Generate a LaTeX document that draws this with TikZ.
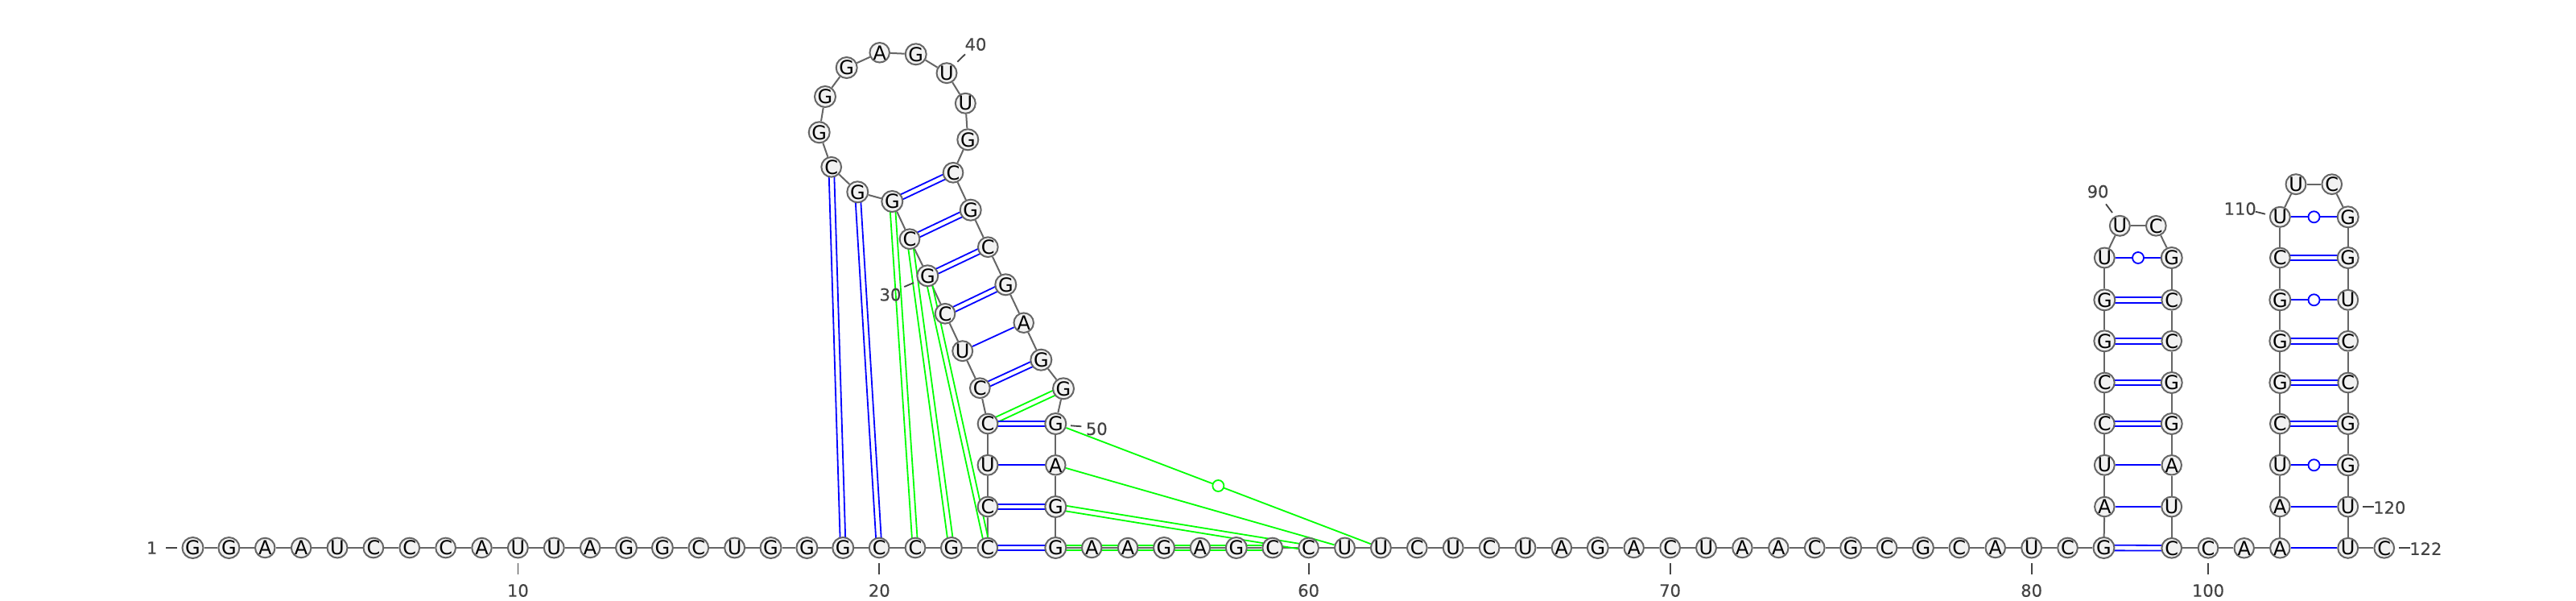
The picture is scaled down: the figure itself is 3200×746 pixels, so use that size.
\documentclass[tikz,border=0pt]{standalone}
\usepackage{fontspec}
\setmainfont{DejaVu Sans}
\newfontfamily\numfont[FakeBold=0.25]{DejaVu Sans}
\usetikzlibrary{calc}
\definecolor{bbgray}{HTML}{666666}
\definecolor{nfill}{HTML}{F2F2F2}
\definecolor{lblgray}{HTML}{444444}
\definecolor{pblue}{HTML}{0000FF}
\definecolor{pgreen}{HTML}{00FF00}
\pgfdeclarelayer{edges}
\pgfsetlayers{edges,main}
\tikzset{
  nt/.style={circle,draw=bbgray,fill=nfill,line width=2pt,minimum size=24.5pt,inner sep=0pt,text=black,font=\fontsize{24}{24}\selectfont},
  bb/.style={draw=bbgray,line width=2pt},
  pairline/.style={line width=1.8pt},
  midmark/.style={circle,fill=white,line width=1.8pt,minimum size=14pt,inner sep=0pt},
  tick/.style={draw=lblgray,line width=1.8pt},
  lbl/.style={text=lblgray,inner sep=0pt,font=\numfont\fontsize{21}{21}\selectfont},
}
\newcommand{\pdouble}[3]{\draw[pairline,#1] ($(n#2)!3.3pt!90:(n#3)$) -- ($(n#3)!3.3pt!-90:(n#2)$); \draw[pairline,#1] ($(n#2)!3.3pt!-90:(n#3)$) -- ($(n#3)!3.3pt!90:(n#2)$);}
\newcommand{\psingle}[3]{\draw[pairline,#1] (n#2) -- (n#3);}
\newcommand{\numlabel}[8]{\coordinate (ta#1) at (#2,#3); \coordinate (tb#1) at (#4,#5); \draw[tick] (ta#1) -- (tb#1); \node[lbl] (l#1) at (#6,#7) {#8};}
\begin{document}
\begin{tikzpicture}[x=1pt,y=-1pt]
\useasboundingbox (0,0) rectangle (3200,746);
\begin{pgfonlayer}{edges}
\fill[white] (0,0) rectangle (3200,746);
\end{pgfonlayer}
% strand 1-23
\foreach \b [count=\i] in {G,G,A,A,U,C,C,C,A,U,U,A,G,G,C,U,G,G,G,C,C,G,C}{
  \pgfmathsetmacro\px{239.5+(\i-1)*44.875}
  \node[nt] (n\i) at (\px,680) {\b};
}
% first arm and loop 24-52
\foreach \i/\px/\py/\b in {
 24/1227/629/C,25/1227/577.3/U,26/1227/526/C,27/1217.3/481.7/C,28/1195.7/435.7/U,
 29/1174/389.3/C,30/1152.3/342.3/G,31/1130/296.7/C,32/1108.3/250/G,33/1065.3/238.3/G,
 34/1032.7/207.3/C,35/1017.7/164.3/G,36/1025/120/G,37/1051.7/84/G,38/1092.7/65.3/A,
 39/1137.7/67.3/G,40/1176/90.7/U,41/1199.3/128.3/U,42/1202.3/173.3/G,43/1184/214.3/C,
 44/1205.7/260.7/G,45/1227.3/306.7/C,46/1249.3/353.3/G,47/1271.7/400.7/A,48/1293.3/446.7/G,
 49/1321/482.3/G,50/1311.3/526/G,51/1311.3/577.3/A,52/1311.3/629/G}{
  \node[nt] (n\i) at (\px,\py) {\b};
}
% strand 53-82
\foreach \b [count=\k] in {G,A,A,G,A,G,C,C,U,U,C,U,C,U,A,G,A,C,U,A,A,C,G,C,G,C,A,U,C,G}{
  \pgfmathtruncatemacro\i{52+\k}
  \pgfmathsetmacro\px{1311.3+(\k-1)*44.9}
  \node[nt] (n\i) at (\px,680) {\b};
}
% hairpins 83-122
\foreach \i/\px/\py/\b in {
 83/2614.3/629/A,84/2614.3/577.3/U,85/2614.3/526/C,86/2614.3/475/C,87/2614.3/423.3/G,
 88/2614.3/372.3/G,89/2614.3/320/U,90/2633.3/280.3/U,91/2678.3/280.3/C,92/2697.7/320/G,
 93/2697.7/372.3/C,94/2697.7/423.3/C,95/2697.7/475/G,96/2697.7/526/G,97/2697.7/577.3/A,
 98/2697.7/629/U,99/2697.7/680.3/C,100/2743/680.3/C,101/2787.7/680.3/A,102/2832.3/680.3/A,
 103/2832.3/629/A,104/2832.3/577.3/U,105/2832.3/526/C,106/2832.3/475/G,107/2832.3/423.3/G,
 108/2832.3/372.3/G,109/2832.3/320/C,110/2832.3/269.3/U,111/2852/228.7/U,112/2896.7/228.7/C,
 113/2916.7/269.3/G,114/2916.7/320/G,115/2916.7/372.3/U,116/2916.7/423.3/C,117/2916.7/475/C,
 118/2916.7/526/G,119/2916.7/577.3/G,120/2916.7/629/U,121/2916.7/680.3/U,122/2961.7/680.3/C}{
  \node[nt] (n\i) at (\px,\py) {\b};
}
\begin{pgfonlayer}{edges}
\foreach \i in {1,...,121}{
  \pgfmathtruncatemacro\j{\i+1}
  \draw[bb] (n\i) -- (n\j);
}
% green pairs
\pdouble{pgreen}{21}{32}
\pdouble{pgreen}{22}{31}
\pdouble{pgreen}{23}{30}
\pdouble{pgreen}{26}{49}
\pdouble{pgreen}{52}{60}
\pdouble{pgreen}{53}{59}
\psingle{pgreen}{51}{61}
\psingle{pgreen}{50}{62}
% blue pairs
\pdouble{pblue}{19}{34}
\pdouble{pblue}{20}{33}
\pdouble{pblue}{23}{53}
\pdouble{pblue}{24}{52}
\psingle{pblue}{25}{51}
\pdouble{pblue}{26}{50}
\pdouble{pblue}{27}{48}
\psingle{pblue}{28}{47}
\pdouble{pblue}{29}{46}
\pdouble{pblue}{30}{45}
\pdouble{pblue}{31}{44}
\pdouble{pblue}{32}{43}
\pdouble{pblue}{82}{99}
\psingle{pblue}{83}{98}
\psingle{pblue}{84}{97}
\pdouble{pblue}{85}{96}
\pdouble{pblue}{86}{95}
\pdouble{pblue}{87}{94}
\pdouble{pblue}{88}{93}
\psingle{pblue}{89}{92}
\psingle{pblue}{102}{121}
\psingle{pblue}{103}{120}
\psingle{pblue}{104}{119}
\pdouble{pblue}{105}{118}
\pdouble{pblue}{106}{117}
\pdouble{pblue}{107}{116}
\psingle{pblue}{108}{115}
\pdouble{pblue}{109}{114}
\psingle{pblue}{110}{113}
\end{pgfonlayer}
% wobble marks at mid-length
\node[midmark,draw=pgreen] (w50) at ($(n50)!0.5!(n62)$) {};
\node[midmark,draw=pblue] (w89) at ($(n89)!0.5!(n92)$) {};
\node[midmark,draw=pblue] (w104) at ($(n104)!0.5!(n119)$) {};
\node[midmark,draw=pblue] (w108) at ($(n108)!0.5!(n115)$) {};
\node[midmark,draw=pblue] (w110) at ($(n110)!0.5!(n113)$) {};
% numbering
\numlabel{1}{206}{680}{220}{680}{188.7}{680}{1}
\numlabel{10}{643.4}{699}{643.4}{713}{643.4}{733}{10}
\numlabel{20}{1092.3}{699}{1092.3}{713}{1092.3}{733}{20}
\numlabel{30}{1123.3}{356}{1135}{351}{1106}{365.7}{30}
\numlabel{40}{1189.3}{76.7}{1199}{67.3}{1212}{55}{40}
\numlabel{50}{1330}{528.3}{1343.3}{529.3}{1362.3}{532.3}{50}
\numlabel{60}{1625.6}{699}{1625.6}{713}{1625.6}{733}{60}
\numlabel{70}{2074.6}{699}{2074.6}{713}{2074.6}{733}{70}
\numlabel{80}{2523.6}{699}{2523.6}{713}{2523.6}{733}{80}
\numlabel{90}{2616}{253.3}{2624}{264}{2606}{237.7}{90}
\numlabel{100}{2743}{699}{2743}{713}{2743}{733}{100}
\numlabel{110}{2801.7}{262.7}{2814}{265.7}{2782.7}{259}{110}
\numlabel{120}{2935}{629}{2949}{629}{2968.3}{630}{120}
\numlabel{122}{2980}{680.3}{2994}{680.3}{3013.3}{681}{122}
\end{tikzpicture}
\end{document}
